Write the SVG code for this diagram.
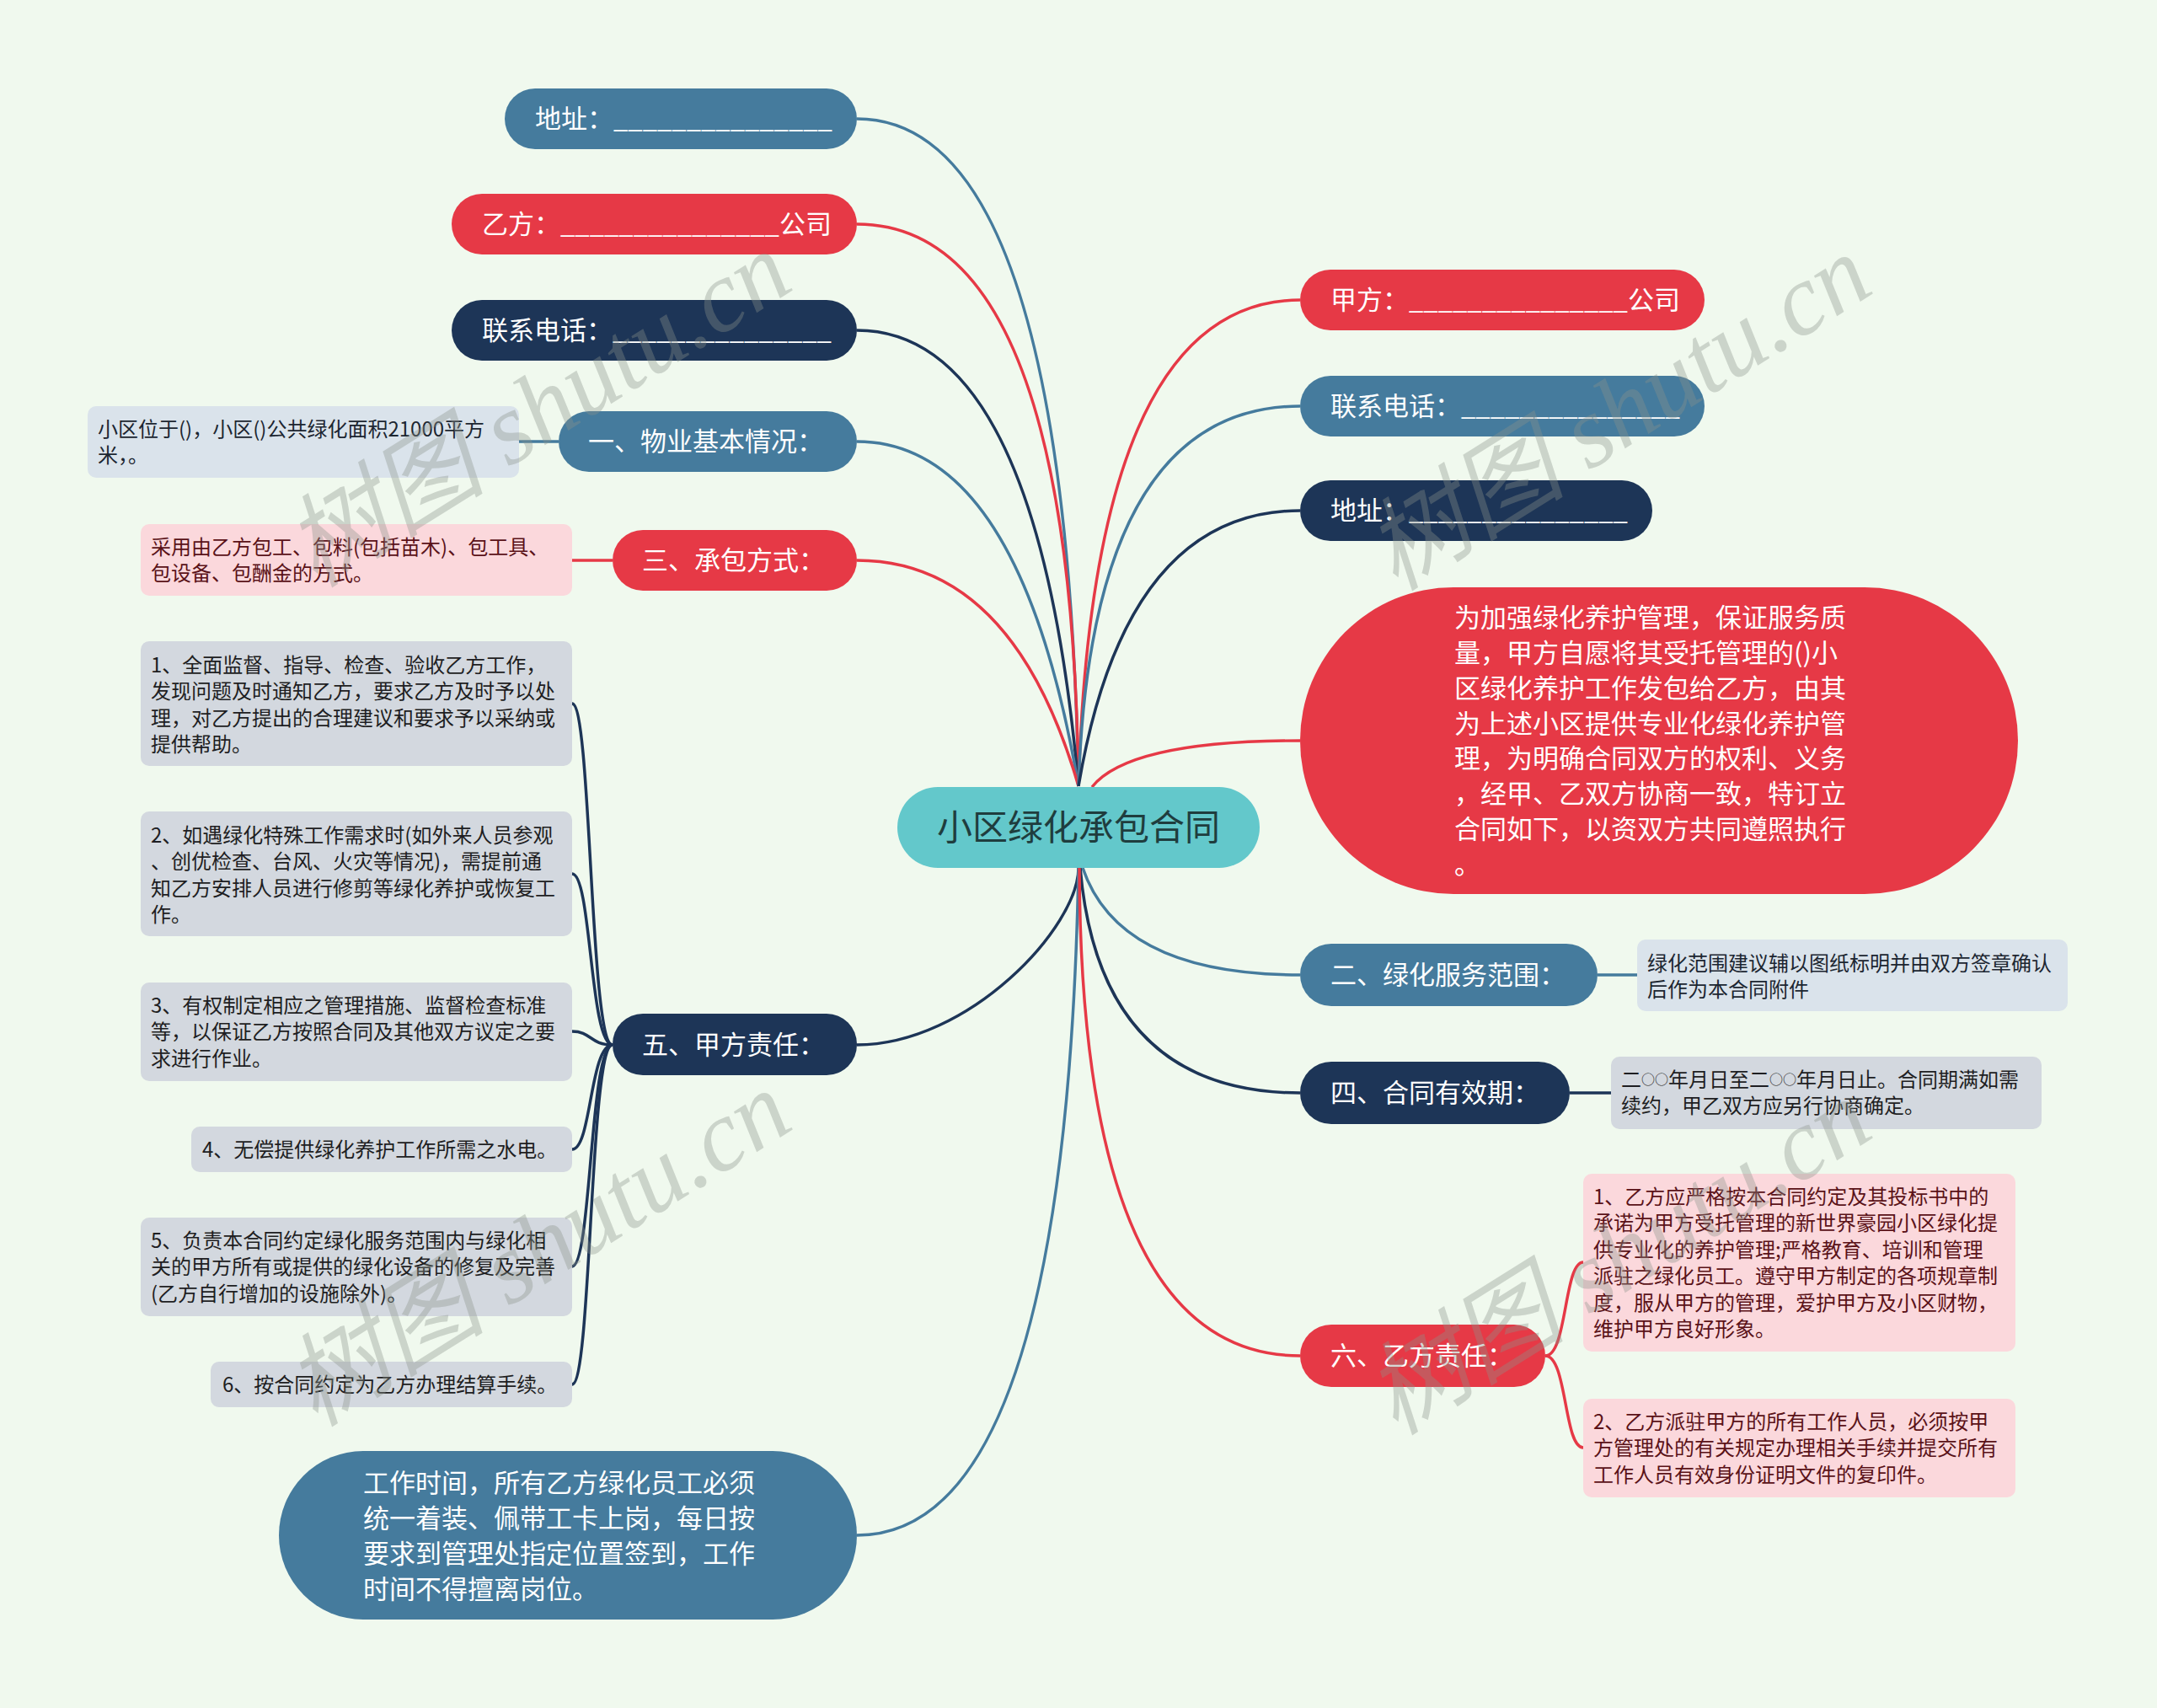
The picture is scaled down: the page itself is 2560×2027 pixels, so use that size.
<svg xmlns="http://www.w3.org/2000/svg" width="2560" height="2027" viewBox="0 0 2560 2027">
<style>
.bg{fill:#f0f9ee}
.blue{fill:#457b9d}.red{fill:#e63946}.navy{fill:#1d3557}
.ctr{fill:#63c8cb}
.cb{fill:#dae3eb}.cp{fill:#fbd8dc}.cg{fill:#d3d8df}
.t{font-family:"Noto Sans CJK SC","Noto Sans",sans-serif;font-size:31px;fill:#ffffff}
.tc{font-family:"Noto Sans CJK SC","Noto Sans",sans-serif;font-size:42px;fill:#1f3d3e;text-anchor:middle}
.s{font-family:"Noto Sans CJK SC","Noto Sans",sans-serif;font-size:24px}
.sb{fill:#1c2631}.sp{fill:#5a1218}.sg{fill:#1e1e22}
.lb{stroke:#457b9d}.lr{stroke:#e63946}.ln{stroke:#1d3557}
#connectors path{fill:none;stroke-width:3.5}
.wm{font-family:"Liberation Serif","Noto Sans CJK SC",serif;font-size:120px;font-style:italic;fill:#8a948a;fill-opacity:0.36;text-anchor:middle}
</style>
<rect class="bg" x="0" y="0" width="2560" height="2027"/>
<g id="connectors">
<path class="lb" d="M1280,933 Q1265,141 1017,141"/>
<path class="lr" d="M1280,933 Q1272,266 1017,266"/>
<path class="ln" d="M1280,933 Q1232,392 1017,392"/>
<path class="lb" d="M1280,933 Q1210,524 1017,524"/>
<path class="lr" d="M1280,933 Q1202,665 1017,665"/>
<path class="lr" d="M1280,933 Q1297,356 1543,356"/>
<path class="lb" d="M1280,933 Q1295,482 1543,482"/>
<path class="ln" d="M1280,933 Q1335,606 1543,606"/>
<path class="lr" d="M1296,934 Q1340,879 1543,879"/>
<path class="ln" d="M1280,1030 C1280,1100 1150,1240 1017,1240"/>
<path class="lb" d="M1280,1030 Q1265,1822 1017,1822"/>
<path class="lb" d="M1285,1030 Q1328,1157 1543,1157"/>
<path class="ln" d="M1282,1030 Q1305,1297 1543,1297"/>
<path class="lr" d="M1281,1030 Q1283,1609 1543,1609"/>
<path class="lb" d="M663,524 L616,524"/>
<path class="lr" d="M727,665 L679,665"/>
<path class="lb" d="M1896,1157 L1943,1157"/>
<path class="ln" d="M1863,1297 L1912,1297"/>
<path class="ln" d="M727,1240 C700,1240 702,835 679,835"/>
<path class="ln" d="M727,1240 C700,1240 702,1037 679,1037"/>
<path class="ln" d="M727,1240 C700,1240 702,1224 679,1224"/>
<path class="ln" d="M727,1240 C700,1240 702,1364 679,1364"/>
<path class="ln" d="M727,1240 C700,1240 702,1503 679,1503"/>
<path class="ln" d="M727,1240 C700,1240 702,1643 679,1643"/>
<path class="lr" d="M1834,1609 C1860,1609 1856,1498 1879,1498"/>
<path class="lr" d="M1834,1609 C1860,1609 1856,1718 1879,1718"/>
</g>
<g id="center"><rect class="ctr" x="1065" y="934" width="430" height="96" rx="48"/><text class="tc" x="1280" y="997">小区绿化承包合同</text></g>
<g id="n-addr-l"><rect class="blue" x="599" y="105" width="418" height="72" rx="36"/><text class="t" x="635" y="152">地址：_______________</text></g>
<g id="n-yi"><rect class="red" x="536" y="230" width="481" height="72" rx="36"/><text class="t" x="572" y="277">乙方：_______________公司</text></g>
<g id="n-tel-l"><rect class="navy" x="536" y="356" width="481" height="72" rx="36"/><text class="t" x="572" y="403">联系电话：_______________</text></g>
<g id="n-1"><rect class="blue" x="663" y="488" width="354" height="72" rx="36"/><text class="t" x="698" y="535">一、物业基本情况：</text></g>
<g id="c-1"><rect class="cb" x="104" y="482" width="512" height="85" rx="10"/><text class="s sb" x="116"><tspan x="116" y="517.5">小区位于()，小区()公共绿化面积21000平方</tspan><tspan x="116" y="549">米，。</tspan></text></g>
<g id="n-3"><rect class="red" x="727" y="629" width="290" height="72" rx="36"/><text class="t" x="762" y="676">三、承包方式：</text></g>
<g id="c-3"><rect class="cp" x="167" y="622" width="512" height="85" rx="10"/><text class="s sp"><tspan x="179" y="657.5">采用由乙方包工、包料(包括苗木)、包工具、</tspan><tspan x="179" y="689">包设备、包酬金的方式。</tspan></text></g>
<g id="n-5"><rect class="navy" x="727" y="1203" width="290" height="73" rx="36"/><text class="t" x="762" y="1251">五、甲方责任：</text></g>
<g id="c-5-1"><rect class="cg" x="167" y="761" width="512" height="148" rx="10"/><text class="s sg"><tspan x="179" y="797.5">1、全面监督、指导、检查、验收乙方工作，</tspan><tspan x="179" y="829">发现问题及时通知乙方，要求乙方及时予以处</tspan><tspan x="179" y="860.5">理，对乙方提出的合理建议和要求予以采纳或</tspan><tspan x="179" y="892">提供帮助。</tspan></text></g>
<g id="c-5-2"><rect class="cg" x="167" y="963" width="512" height="148" rx="10"/><text class="s sg"><tspan x="179" y="999.5">2、如遇绿化特殊工作需求时(如外来人员参观</tspan><tspan x="179" y="1031">、创优检查、台风、火灾等情况)，需提前通</tspan><tspan x="179" y="1062.5">知乙方安排人员进行修剪等绿化养护或恢复工</tspan><tspan x="179" y="1094">作。</tspan></text></g>
<g id="c-5-3"><rect class="cg" x="167" y="1166" width="512" height="117" rx="10"/><text class="s sg"><tspan x="179" y="1201.5">3、有权制定相应之管理措施、监督检查标准</tspan><tspan x="179" y="1233">等，以保证乙方按照合同及其他双方议定之要</tspan><tspan x="179" y="1264.5">求进行作业。</tspan></text></g>
<g id="c-5-4"><rect class="cg" x="227" y="1337" width="452" height="54" rx="10"/><text class="s sg" x="240" y="1372.5">4、无偿提供绿化养护工作所需之水电。</text></g>
<g id="c-5-5"><rect class="cg" x="167" y="1445" width="512" height="117" rx="10"/><text class="s sg"><tspan x="179" y="1480.5">5、负责本合同约定绿化服务范围内与绿化相</tspan><tspan x="179" y="1512">关的甲方所有或提供的绿化设备的修复及完善</tspan><tspan x="179" y="1543.5">(乙方自行增加的设施除外)。</tspan></text></g>
<g id="c-5-6"><rect class="cg" x="250" y="1616" width="429" height="54" rx="10"/><text class="s sg" x="264" y="1651.5">6、按合同约定为乙方办理结算手续。</text></g>
<g id="n-work"><rect class="blue" x="331" y="1722" width="686" height="200" rx="100"/><text class="t"><tspan x="431" y="1771">工作时间，所有乙方绿化员工必须</tspan><tspan x="431" y="1813">统一着装、佩带工卡上岗，每日按</tspan><tspan x="431" y="1855">要求到管理处指定位置签到，工作</tspan><tspan x="431" y="1897">时间不得擅离岗位。</tspan></text></g>
<g id="n-jia"><rect class="red" x="1543" y="320" width="480" height="72" rx="36"/><text class="t" x="1579" y="367">甲方：_______________公司</text></g>
<g id="n-tel-r"><rect class="blue" x="1543" y="446" width="480" height="72" rx="36"/><text class="t" x="1579" y="493">联系电话：_______________</text></g>
<g id="n-addr-r"><rect class="navy" x="1543" y="570" width="418" height="72" rx="36"/><text class="t" x="1579" y="617">地址：_______________</text></g>
<g id="n-big"><rect class="red" x="1543" y="697" width="852" height="364" rx="182"/><text class="t"><tspan x="1726" y="744">为加强绿化养护管理，保证服务质</tspan><tspan x="1726" y="786">量，甲方自愿将其受托管理的()小</tspan><tspan x="1726" y="828">区绿化养护工作发包给乙方，由其</tspan><tspan x="1726" y="870">为上述小区提供专业化绿化养护管</tspan><tspan x="1726" y="911">理，为明确合同双方的权利、义务</tspan><tspan x="1726" y="953">，经甲、乙双方协商一致，特订立</tspan><tspan x="1726" y="995">合同如下，以资双方共同遵照执行</tspan><tspan x="1726" y="1037">。</tspan></text></g>
<g id="n-2"><rect class="blue" x="1543" y="1120" width="353" height="74" rx="37"/><text class="t" x="1579" y="1168">二、绿化服务范围：</text></g>
<g id="c-2"><rect class="cb" x="1943" y="1115" width="511" height="85" rx="10"/><text class="s sb"><tspan x="1955" y="1151.5">绿化范围建议辅以图纸标明并由双方签章确认</tspan><tspan x="1955" y="1183">后作为本合同附件</tspan></text></g>
<g id="n-4"><rect class="navy" x="1543" y="1260" width="320" height="74" rx="37"/><text class="t" x="1579" y="1308">四、合同有效期：</text></g>
<g id="c-4"><rect class="cg" x="1912" y="1254" width="511" height="86" rx="10"/><text class="s sg"><tspan x="1924" y="1289.5">二<tspan font-size="16" dy="-3">○○</tspan><tspan dy="3">年月日至二</tspan><tspan font-size="16" dy="-3">○○</tspan><tspan dy="3">年月日止。合同期满如需</tspan></tspan><tspan x="1924" y="1321">续约，甲乙双方应另行协商确定。</tspan></text></g>
<g id="n-6"><rect class="red" x="1543" y="1572" width="291" height="74" rx="37"/><text class="t" x="1579" y="1620">六、乙方责任：</text></g>
<g id="c-6-1"><rect class="cp" x="1879" y="1393" width="513" height="211" rx="10"/><text class="s sp"><tspan x="1891" y="1428.5">1、乙方应严格按本合同约定及其投标书中的</tspan><tspan x="1891" y="1460">承诺为甲方受托管理的新世界豪园小区绿化提</tspan><tspan x="1891" y="1491.5">供专业化的养护管理;严格教育、培训和管理</tspan><tspan x="1891" y="1523">派驻之绿化员工。遵守甲方制定的各项规章制</tspan><tspan x="1891" y="1554.5">度，服从甲方的管理，爱护甲方及小区财物，</tspan><tspan x="1891" y="1586">维护甲方良好形象。</tspan></text></g>
<g id="c-6-2"><rect class="cp" x="1879" y="1660" width="513" height="117" rx="10"/><text class="s sp"><tspan x="1891" y="1695.5">2、乙方派驻甲方的所有工作人员，必须按甲</tspan><tspan x="1891" y="1727">方管理处的有关规定办理相关手续并提交所有</tspan><tspan x="1891" y="1758.5">工作人员有效身份证明文件的复印件。</tspan></text></g>
<g id="watermark">
<text class="wm" transform="translate(660,520) rotate(-32)">树图 shutu.cn</text>
<text class="wm" transform="translate(1942,524) rotate(-32)">树图 shutu.cn</text>
<text class="wm" transform="translate(660,1516) rotate(-32)">树图 shutu.cn</text>
<text class="wm" transform="translate(1942,1526) rotate(-32)">树图 shutu.cn</text>
</g>
</svg>
